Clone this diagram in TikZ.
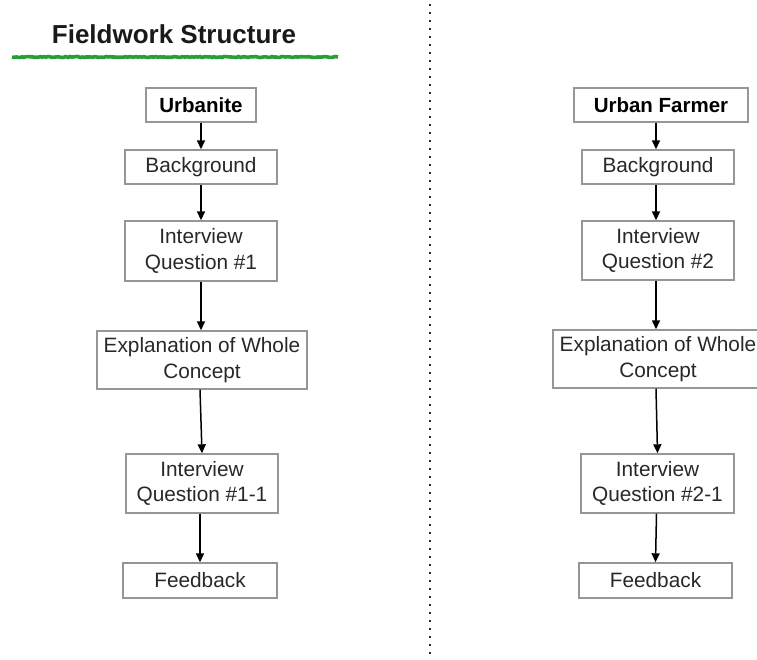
\documentclass[tikz,border=0pt]{standalone}
\usepackage{fontspec}
\setmainfont{Liberation Sans}
\usetikzlibrary{arrows.meta,decorations.pathmorphing}
\definecolor{boxgray}{RGB}{150,150,150}
\definecolor{textgray}{RGB}{40,40,40}
\definecolor{markgreen}{RGB}{40,158,55}
\begin{document}
\begin{tikzpicture}[x=1pt,y=-1pt,
  box/.style={draw=boxgray, line width=1.4pt, inner sep=0pt, align=center,
    text=textgray, font=\fontsize{20.8}{25.5}\selectfont, minimum height=34pt},
  head/.style={box, text=black, font=\fontsize{20.5}{24}\selectfont\bfseries},
  flow/.style={line width=1.5pt, -{Triangle[length=9pt,width=8pt]}},
  divider/.style={line width=2.4pt, dash pattern=on 2.2pt off 5.8pt, black!85},
  underline/.style={draw=markgreen, line width=3.6pt,
    decorate, decoration={random steps, segment length=2pt, amplitude=0.5pt}},
]
\useasboundingbox (0,0) rectangle (757,659);

% title with green underline
\node[font=\fontsize{26}{30}\selectfont\bfseries, text=black!90, anchor=base,
  inner sep=0pt] (title) at (174,43) {Fieldwork Structure};
\coordinate (ulL) at (12,57);
\coordinate (ulR) at (338,57);
\draw[underline] (ulL) -- (ulR);

% dotted divider between the two columns
\coordinate (divT) at (430,4);
\coordinate (divB) at (430,662);
\draw[divider] (divT) -- (divB);

% left column: urbanite
\node[head, minimum width=110pt] (urb)  at (201,105)   {Urbanite};
\node[box,  minimum width=152pt] (bg1)  at (201,167)   {Background};
\node[box,  minimum width=152pt, minimum height=60pt] (iq1) at (201,251) {Interview\\Question \#1};
\node[box,  minimum width=210pt, minimum height=58pt] (ex1) at (202,360) {Explanation of Whole\\Concept};
\node[box,  minimum width=152pt, minimum height=59pt] (iq11) at (202,483.5) {Interview\\Question \#1-1};
\node[box,  minimum width=154pt, minimum height=35pt] (fb1) at (200,580.5) {Feedback};

\draw[flow] (urb.south) -- (bg1.north);
\draw[flow] (bg1.south) -- (iq1.north);
\draw[flow] (iq1.south) -- ([xshift=-1pt]ex1.north);
\draw[flow] ([xshift=-2pt]ex1.south) -- (iq11.north);
\draw[flow] ([xshift=-2pt]iq11.south) -- (fb1.north);

% right column: urban farmer
\node[head, minimum width=174pt] (uf)   at (661,105)   {Urban Farmer};
\node[box,  minimum width=152pt] (bg2)  at (658,167)   {Background};
\node[box,  minimum width=152pt, minimum height=59pt] (iq2) at (658,250.5) {Interview\\Question \#2};
\node[box,  minimum width=210pt, minimum height=58pt] (ex2) at (658,359) {Explanation of Whole\\Concept};
\node[box,  minimum width=153pt, minimum height=59pt] (iq21) at (657.5,483.5) {Interview\\Question \#2-1};
\node[box,  minimum width=153pt, minimum height=35pt] (fb2) at (655.5,580.5) {Feedback};

\draw[flow] ([xshift=-5pt]uf.south) -- ([xshift=-2pt]bg2.north);
\draw[flow] ([xshift=-2pt]bg2.south) -- ([xshift=-2pt]iq2.north);
\draw[flow] ([xshift=-2pt]iq2.south) -- ([xshift=-2pt]ex2.north);
\draw[flow] ([xshift=-2pt]ex2.south) -- (iq21.north);
\draw[flow] ([xshift=-1pt]iq21.south) -- (fb2.north);
\end{tikzpicture}
\end{document}
